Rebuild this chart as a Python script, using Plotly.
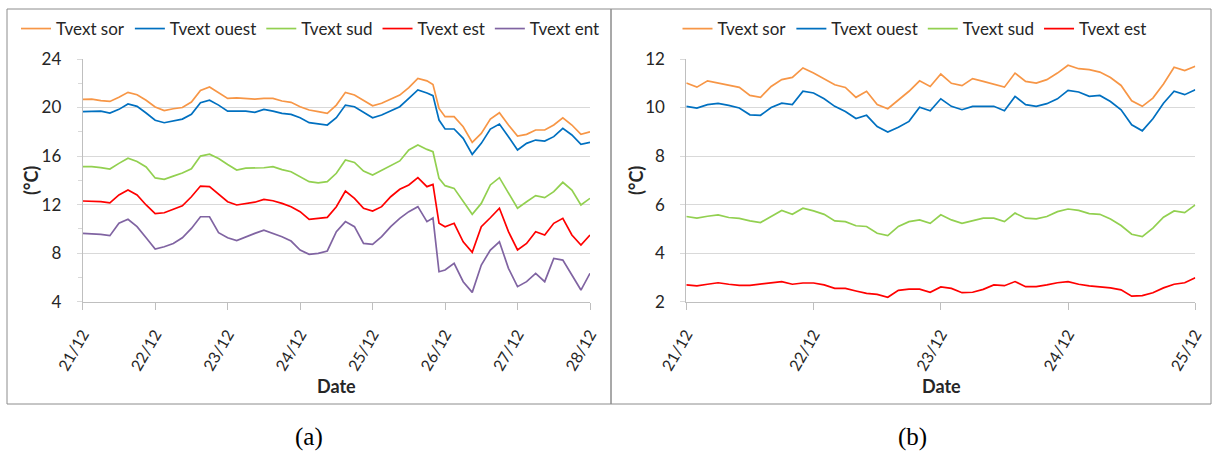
import pandas as pd
import plotly.graph_objects as go

# ---------------- data ----------------
# panel (a): hours since 21/12 00:00
hours_a = list(range(0, 115, 3)) + [116, 118] + list(range(120, 169, 3))
sor_a = [20.67, 20.7, 20.57, 20.5, 20.85, 21.25, 21.05, 20.6, 20.05, 19.75, 19.9, 20.0, 20.45, 21.4, 21.7, 21.2, 20.75, 20.8, 20.75, 20.7,
         20.76, 20.76, 20.54, 20.43, 20.07, 19.8, 19.66, 19.52, 20.2, 21.25, 21.03, 20.57, 20.15, 20.35, 20.7, 21.03, 21.64, 22.4, 22.2,
         21.9, 19.93,
         19.25, 19.25, 18.42, 17.13, 17.87, 19.05, 19.57, 18.56, 17.65, 17.79, 18.15, 18.15, 18.56, 19.16, 18.56, 17.79, 18.0]
ouest_a = [19.66, 19.66, 19.7, 19.55, 19.85, 20.3, 20.1, 19.55, 18.95, 18.75, 18.92, 19.05, 19.45, 20.4, 20.6, 20.2, 19.7, 19.7, 19.7, 19.6,
           19.85, 19.7, 19.52, 19.44, 19.16, 18.75, 18.64, 18.56, 19.16, 20.2, 20.07, 19.6, 19.16, 19.38, 19.74, 20.07, 20.76, 21.45, 21.2,
           20.98, 18.97,
           18.23, 18.23, 17.46, 16.14, 17.05, 18.23, 18.64, 17.6, 16.5, 17.05, 17.32, 17.24, 17.6, 18.29, 17.74, 16.97, 17.13]
sud_a = [15.13, 15.13, 15.05, 14.93, 15.4, 15.83, 15.55, 15.1, 14.2, 14.08, 14.35, 14.6, 14.95, 16.0, 16.15, 15.8, 15.3, 14.85, 15.0, 15.0,
         15.04, 15.13, 14.88, 14.71, 14.3, 13.89, 13.8, 13.89, 14.58, 15.68, 15.48, 14.77, 14.44, 14.85, 15.26, 15.6, 16.5, 16.91, 16.55,
         16.36, 14.16,
         13.56, 13.34, 12.24, 11.2, 12.1, 13.62, 14.22, 12.93, 11.7, 12.24, 12.74, 12.57, 13.07, 13.84, 13.2, 11.97, 12.52]
est_a = [12.3, 12.3, 12.25, 12.15, 12.8, 13.2, 12.8, 11.97, 11.25, 11.33, 11.64, 11.9, 12.65, 13.53, 13.48, 12.85, 12.24, 11.97, 12.1, 12.2,
         12.43, 12.32, 12.1, 11.83, 11.42, 10.79, 10.87, 10.95, 11.83, 13.12, 12.52, 11.7, 11.47, 11.83, 12.65, 13.26, 13.62, 14.22, 13.48,
         13.67, 10.46,
         10.18, 10.46, 8.94, 8.07, 10.18, 10.92, 11.7, 9.77, 8.26, 8.8, 9.77, 9.5, 10.46, 10.87, 9.5, 8.67, 9.5]
ent_a = [9.63, 9.6, 9.55, 9.44, 10.46, 10.79, 10.18, 9.27, 8.34, 8.53, 8.8, 9.27, 10.04, 11.0, 11.0, 9.69, 9.27, 9.03, 9.36, 9.63,
         9.9, 9.63, 9.36, 9.0, 8.26, 7.9, 7.98, 8.18, 9.77, 10.6, 10.18, 8.8, 8.72, 9.36, 10.18, 10.87, 11.42, 11.83, 10.6,
         10.9, 6.47,
         6.61, 7.16, 5.65, 4.77, 7.02, 8.26, 8.94, 6.75, 5.24, 5.65, 6.34, 5.65, 7.57, 7.43, 6.2, 4.96, 6.34]

# panel (b): hours since 21/12 00:00
hours_b = list(range(0, 97, 2))
sor_b = [11.01, 10.84, 11.1, 11.02, 10.94, 10.83, 10.5, 10.42, 10.87, 11.15, 11.24, 11.63, 11.42, 11.19, 10.94, 10.83, 10.42,
         10.67, 10.12, 9.95, 10.32, 10.67, 11.1, 10.87, 11.38, 11.0, 10.9, 11.19, 11.08, 10.97, 10.84, 11.42, 11.08,
         11.01, 11.15, 11.42, 11.74, 11.6, 11.56, 11.46, 11.24, 10.91, 10.28, 10.05, 10.39, 10.97, 11.66, 11.52, 11.7]
ouest_b = [10.05, 9.98, 10.12, 10.17, 10.09, 9.98, 9.7, 9.68, 10.0, 10.18, 10.12, 10.67, 10.6, 10.36, 10.05, 9.84, 9.55,
           9.68, 9.22, 8.99, 9.19, 9.43, 10.01, 9.87, 10.36, 10.05, 9.91, 10.05, 10.05, 10.05, 9.87, 10.46, 10.12,
           10.05, 10.16, 10.36, 10.71, 10.64, 10.46, 10.5, 10.25, 9.91, 9.29, 9.04, 9.54, 10.18, 10.67, 10.53, 10.73]
sud_b = [5.51, 5.44, 5.52, 5.58, 5.47, 5.43, 5.33, 5.26, 5.51, 5.76, 5.6, 5.85, 5.74, 5.6, 5.33, 5.3, 5.13,
         5.1, 4.82, 4.72, 5.1, 5.3, 5.37, 5.23, 5.58, 5.37, 5.23, 5.34, 5.44, 5.44, 5.3, 5.65, 5.44,
         5.41, 5.51, 5.71, 5.82, 5.76, 5.63, 5.6, 5.41, 5.14, 4.78, 4.68, 5.03, 5.48, 5.74, 5.67, 5.99]
est_b = [2.69, 2.65, 2.72, 2.78, 2.72, 2.67, 2.67, 2.72, 2.77, 2.83, 2.72, 2.77, 2.77, 2.69, 2.55, 2.55, 2.44,
         2.34, 2.3, 2.18, 2.47, 2.52, 2.52, 2.39, 2.61, 2.55, 2.37, 2.39, 2.51, 2.69, 2.66, 2.83, 2.62,
         2.62, 2.69, 2.78, 2.83, 2.72, 2.65, 2.62, 2.57, 2.49, 2.23, 2.25, 2.37, 2.57, 2.72, 2.78, 2.99]

names = ["Tvext sor", "Tvext ouest", "Tvext sud", "Tvext est", "Tvext ent"]
colors = ["#F79646", "#0070C0", "#92D050", "#FF0000", "#8064A2"]
start = pd.Timestamp("2013-12-21")

# ---------------- figure ----------------
W, H = 1212, 456
FONT = "Lato"
TXT = "#262626"

def px(x):
    return x / W

def py(y):
    return 1 - y / H

time_a = start + pd.to_timedelta(hours_a, unit="h")
time_b = start + pd.to_timedelta(hours_b, unit="h")

fig = go.Figure()
for nm, col, vals in zip(names, colors, [sor_a, ouest_a, sud_a, est_a, ent_a]):
    fig.add_trace(go.Scatter(x=time_a, y=vals, mode="lines", name=nm,
                             line=dict(color=col, width=1.7),
                             xaxis="x", yaxis="y", legend="legend"))
for nm, col, vals in zip(names[:4], colors[:4], [sor_b, ouest_b, sud_b, est_b]):
    fig.add_trace(go.Scatter(x=time_b, y=vals, mode="lines", name=nm,
                             line=dict(color=col, width=1.7),
                             xaxis="x2", yaxis="y2", legend="legend2"))

xcommon = dict(type="date", dtick=86400000, tick0=start, tickformat="%d/%m",
               tickangle=-60, ticks="outside", ticklen=7, tickcolor="#bfbfbf",
               showline=True, linecolor="#bfbfbf", linewidth=1, showgrid=False,
               zeroline=False, tickfont=dict(family=FONT, size=16, color=TXT),
               automargin=False, ticklabelstandoff=9)
ycommon = dict(showgrid=True, gridcolor="#d9d9d9", gridwidth=1,
               ticks="outside", ticklen=5, tickcolor="#d9d9d9",
               showline=True, linecolor="#bfbfbf", linewidth=1, zeroline=False,
               tickfont=dict(family=FONT, size=17, color=TXT),
               automargin=False, ticklabelstandoff=12)

ydom = [py(301.7), py(59)]
fig.update_layout(
    width=W, height=H, margin=dict(l=0, r=0, t=0, b=0),
    paper_bgcolor="white", plot_bgcolor="white",
    xaxis=dict(domain=[px(82.7), px(590)], anchor="y",
               range=[start, start + pd.Timedelta(days=7)], **xcommon),
    yaxis=dict(domain=ydom, anchor="x", range=[4, 24], dtick=4,
               minor=dict(dtick=2, ticks="outside", ticklen=4, tickcolor="#d9d9d9", showgrid=False),
               **ycommon),
    xaxis2=dict(domain=[px(686.3), px(1195.3)], anchor="y2",
                range=[start, start + pd.Timedelta(days=4)], **xcommon),
    yaxis2=dict(domain=ydom, anchor="x2", range=[2, 12], dtick=2, **ycommon),
    legend=dict(orientation="h", x=px(310.5), xanchor="center", y=py(29), yanchor="middle",
                font=dict(family=FONT, size=17, color=TXT), bgcolor="rgba(0,0,0,0)",
                itemwidth=30, tracegroupgap=0),
    legend2=dict(orientation="h", x=px(914.5), xanchor="center", y=py(29), yanchor="middle",
                 font=dict(family=FONT, size=17, color=TXT), bgcolor="rgba(0,0,0,0)",
                 itemwidth=30, tracegroupgap=0),
    showlegend=True,
)

border = "#8c8c8c"
fig.add_shape(type="rect", xref="paper", yref="paper", x0=px(7), x1=px(611), y0=py(404), y1=py(9),
              line=dict(color=border, width=1))
fig.add_shape(type="rect", xref="paper", yref="paper", x0=px(611), x1=px(1211), y0=py(404), y1=py(9),
              line=dict(color=border, width=1))

title_font = dict(family=FONT, size=18, color=TXT)
anno = dict(xref="paper", yref="paper", showarrow=False, xanchor="center", yanchor="middle")
fig.add_annotation(text="<b>(°C)</b>", x=px(31), y=py(181), textangle=-90, font=title_font, **anno)
fig.add_annotation(text="<b>(°C)</b>", x=px(636), y=py(181), textangle=-90, font=title_font, **anno)
fig.add_annotation(text="<b>Date</b>", x=px(336.4), y=py(386), font=title_font, **anno)
fig.add_annotation(text="<b>Date</b>", x=px(941), y=py(386), font=title_font, **anno)
cap_font = dict(family="Liberation Serif", size=25, color="#000")
fig.add_annotation(text="(a)", x=px(309), y=py(437), font=cap_font, **anno)
fig.add_annotation(text="(b)", x=px(912), y=py(437), font=cap_font, **anno)

fig.write_html("out.html", config={"displayModeBar": False},
               post_script="document.body.style.margin='0';document.body.style.overflow='hidden';")
